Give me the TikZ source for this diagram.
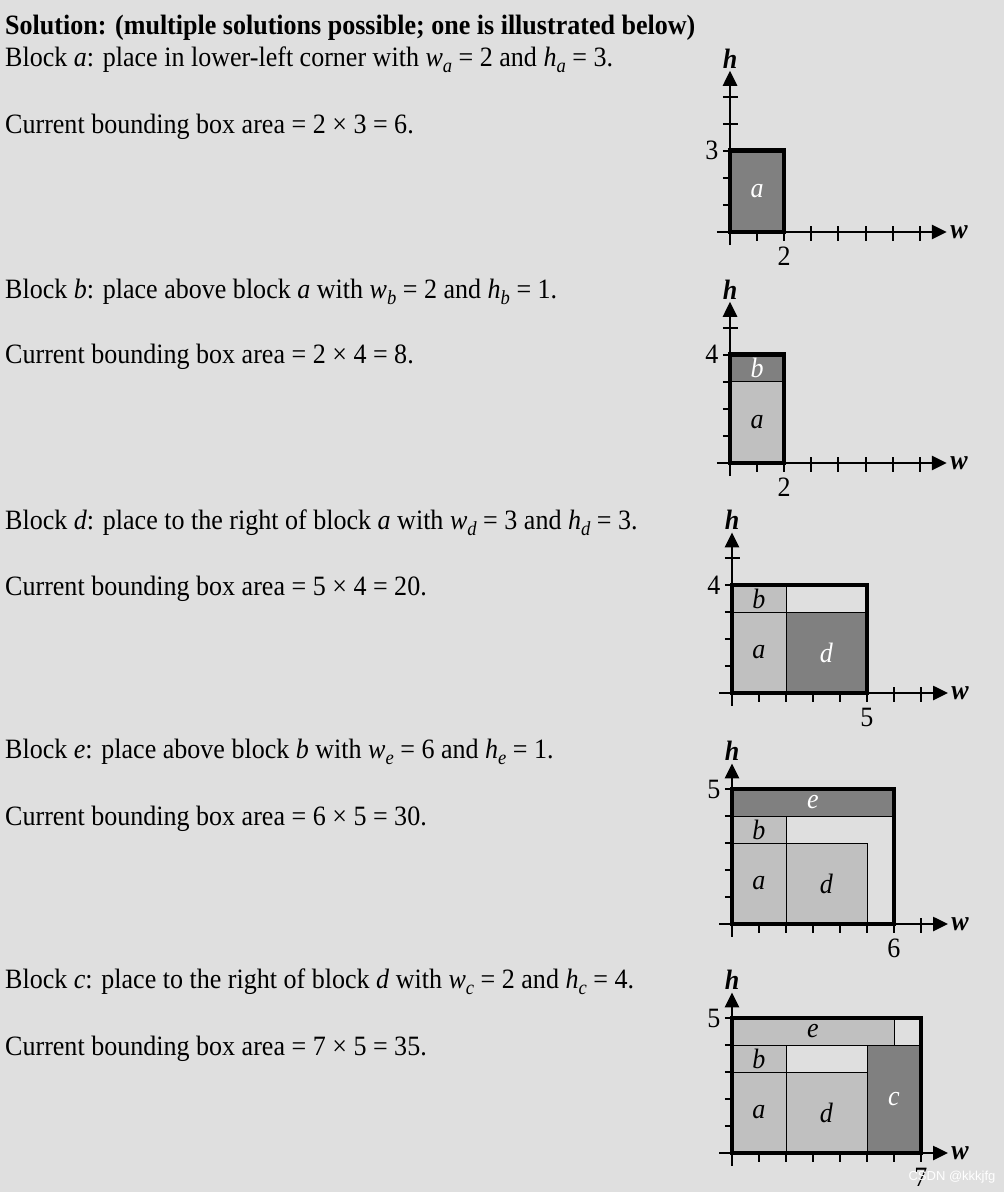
\documentclass[tikz,border=0pt]{standalone}
\usepackage{fontspec}
\setmainfont{Liberation Serif}[FakeStretch=0.93]
\newfontfamily\wmfont{Liberation Sans}
\usetikzlibrary{arrows.meta}
\definecolor{bg}{RGB}{223,223,223}
\definecolor{dk}{RGB}{128,128,128}
\definecolor{lt}{RGB}{192,192,192}
\newcommand\sbs[1]{\raisebox{-0.24em}{\fontsize{20}{22}\selectfont\textit{#1}}}
\newcommand\myticks{%
  \foreach \i in {1,...,7} \draw[tickln] (\i,-0.33) -- (\i,0.22);
  \foreach \j in {1,...,5} \draw[tickln] (-0.26,\j) -- (0.3,\j);
}
\newcommand\myaxes[1]{%
  \draw[axisln] (-0.48,0) -- (8,0);
  \draw[axisln] (0,-0.48) -- (0,5.95);
  \node[axlab] (h#1) at (0,6.4) {h};
  \node[axlab] (w#1) at (8.45,0) {w};
}
\tikzset{
  txt/.style={anchor=base west, inner sep=0pt, font=\fontsize{28}{32}\selectfont},
  blk/.style={draw=black, line width=1pt},
  bbox/.style={draw=black, line width=4.5pt},
  axisln/.style={line width=2.6pt, -{Triangle[length=15pt,width=14pt]}},
  tickln/.style={line width=2pt},
  lab/.style={font=\fontsize{28}{32}\selectfont, inner sep=0pt},
  blab/.style={font=\fontsize{28}{32}\selectfont\itshape, inner sep=0pt},
  axlab/.style={font=\fontsize{28}{32}\selectfont\bfseries\itshape, inner sep=0pt},
}
\begin{document}
\begin{tikzpicture}[x=1pt,y=-1pt]
\useasboundingbox (0,0) rectangle (1004,1192);
\fill[bg] (0,0) rectangle (1004,1192);

% ---- texts ----
\node[txt, font=\fontsize{28}{32}\selectfont\bfseries] (t0) at (5,34) {Solution: (multiple solutions possible; one is illustrated below)};
\node[txt] (t1) at (5,66) {Block \textit{a}: place in lower-left corner with \textit{w}\sbs{a} = 2 and \textit{h}\sbs{a} = 3.};
\node[txt] (t2) at (5,133) {Current bounding box area = 2 × 3 = 6.};
\node[txt] (t3) at (5,298) {Block \textit{b}: place above block \textit{a} with \textit{w}\sbs{b} = 2 and \textit{h}\sbs{b} = 1.};
\node[txt] (t4) at (5,363) {Current bounding box area = 2 × 4 = 8.};
\node[txt] (t5) at (5,529) {Block \textit{d}: place to the right of block \textit{a} with \textit{w}\sbs{d} = 3 and \textit{h}\sbs{d} = 3.};
\node[txt] (t6) at (5,595) {Current bounding box area = 5 × 4 = 20.};
\node[txt] (t7) at (5,758) {Block \textit{e}: place above block \textit{b} with \textit{w}\sbs{e} = 6 and \textit{h}\sbs{e} = 1.};
\node[txt] (t8) at (5,825) {Current bounding box area = 6 × 5 = 30.};
\node[txt] (t9) at (5,988) {Block \textit{c}: place to the right of block \textit{d} with \textit{w}\sbs{c} = 2 and \textit{h}\sbs{c} = 4.};
\node[txt] (t10) at (5,1055) {Current bounding box area = 7 × 5 = 35.};

% ---- diagram 1 ----
\begin{scope}[shift={(730pt,-232pt)}, x=27.1pt, y=27.1pt]
  \myticks
  \fill[dk] (0,0) rectangle (2,3);
  \draw[bbox] (0,0) rectangle (2,3);
  \myaxes{1}
  \node[blab, text=white] (a1) at (1,1.5) {a};
  \node[lab, anchor=east] (y1) at (-0.42,3) {3};
  \node[lab, anchor=north] (x1) at (2,-0.56) {2};
\end{scope}

% ---- diagram 2 ----
\begin{scope}[shift={(730pt,-463pt)}, x=27.1pt, y=27.1pt]
  \myticks
  \filldraw[blk, fill=lt] (0,0) rectangle (2,3);
  \filldraw[blk, fill=dk] (0,3) rectangle (2,4);
  \draw[bbox] (0,0) rectangle (2,4);
  \myaxes{2}
  \node[blab] (a2) at (1,1.5) {a};
  \node[blab, text=white] (b2) at (1,3.5) {b};
  \node[lab, anchor=east] (y2) at (-0.42,4) {4};
  \node[lab, anchor=north] (x2) at (2,-0.56) {2};
\end{scope}

% ---- diagram 3 ----
\begin{scope}[shift={(732pt,-693pt)}, x=27pt, y=27pt]
  \myticks
  \filldraw[blk, fill=lt] (0,0) rectangle (2,3);
  \filldraw[blk, fill=lt] (0,3) rectangle (2,4);
  \filldraw[blk, fill=dk] (2,0) rectangle (5,3);
  \draw[bbox] (0,0) rectangle (5,4);
  \myaxes{3}
  \node[blab] (a3) at (1,1.5) {a};
  \node[blab] (b3) at (1,3.5) {b};
  \node[blab, text=white] (d3) at (3.5,1.5) {d};
  \node[lab, anchor=east] (y3) at (-0.42,4) {4};
  \node[lab, anchor=north] (x3) at (5,-0.56) {5};
\end{scope}

% ---- diagram 4 ----
\begin{scope}[shift={(732pt,-924pt)}, x=27pt, y=27pt]
  \myticks
  \filldraw[blk, fill=lt] (0,0) rectangle (2,3);
  \filldraw[blk, fill=lt] (0,3) rectangle (2,4);
  \filldraw[blk, fill=lt] (2,0) rectangle (5,3);
  \filldraw[blk, fill=dk] (0,4) rectangle (6,5);
  \draw[bbox] (0,0) rectangle (6,5);
  \myaxes{4}
  \node[blab] (a4) at (1,1.5) {a};
  \node[blab] (b4) at (1,3.5) {b};
  \node[blab] (d4) at (3.5,1.5) {d};
  \node[blab, text=white] (e4) at (3,4.5) {e};
  \node[lab, anchor=east] (y4) at (-0.42,5) {5};
  \node[lab, anchor=north] (x4) at (6,-0.56) {6};
\end{scope}

% ---- diagram 5 ----
\begin{scope}[shift={(732pt,-1153pt)}, x=27pt, y=27pt]
  \myticks
  \filldraw[blk, fill=lt] (0,0) rectangle (2,3);
  \filldraw[blk, fill=lt] (0,3) rectangle (2,4);
  \filldraw[blk, fill=lt] (2,0) rectangle (5,3);
  \filldraw[blk, fill=lt] (0,4) rectangle (6,5);
  \filldraw[blk, fill=dk] (5,0) rectangle (7,4);
  \draw[bbox] (0,0) rectangle (7,5);
  \myaxes{5}
  \node[blab] (a5) at (1,1.5) {a};
  \node[blab] (b5) at (1,3.5) {b};
  \node[blab] (d5) at (3.5,1.5) {d};
  \node[blab] (e5) at (3,4.5) {e};
  \node[blab, text=white] (c5) at (6,2) {c};
  \node[lab, anchor=east] (y5) at (-0.42,5) {5};
  \node[lab, anchor=north] (x5) at (7,-0.56) {7};
\end{scope}

\node[font=\wmfont\fontsize{13}{15}\selectfont, text=white, inner sep=0pt] (wm) at (952,1177) {CSDN @kkkjfg};
\end{tikzpicture}
\end{document}
